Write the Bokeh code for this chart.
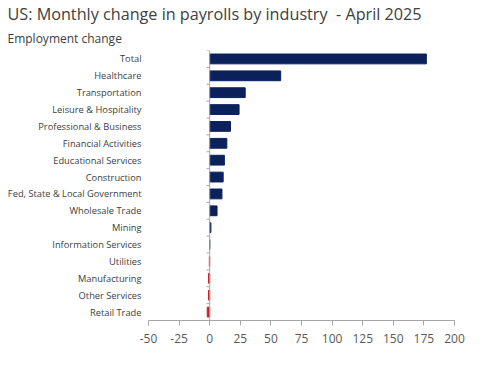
from bokeh.plotting import figure
from bokeh.models import (Range1d, FixedTicker, ColumnDataSource, Span, Label, Title)
from bokeh.embed import file_html
from bokeh.resources import INLINE

industries = ["Total", "Healthcare", "Transportation", "Leisure & Hospitality",
              "Professional & Business", "Financial Activities", "Educational Services",
              "Construction", "Fed, State & Local Government", "Wholesale Trade",
              "Mining", "Information Services", "Utilities", "Manufacturing",
              "Other Services", "Retail Trade"]
values = [177, 58, 29, 24, 17, 14, 12, 11, 10, 6, 1, 0, -0.3, -1, -1, -2]
x_ticks = [-50, -25, 0, 25, 50, 75, 100, 125, 150, 175, 200]

FONT = "Open Sans"
NAVY = "#0a215c"
RED = "#c0222a"
TXT = "#404040"
AX = "#a6a6a6"

n = len(industries)
pos = list(range(n))
colors = [NAVY if v >= 0 else RED for v in values]
src = ColumnDataSource(dict(y=pos, v=values, c=colors, name=industries))

p = figure(width=485, height=375, output_backend="svg", toolbar_location=None,
           x_range=Range1d(-50, 200), y_range=Range1d(n - 0.5, -0.5),
           min_border_left=148, min_border_right=31, min_border_top=47,
           min_border_bottom=55, y_axis_location="left")
p.outline_line_color = None
p.grid.visible = False
p.background_fill_color = "white"
p.border_fill_color = "white"

p.title.text = "US: Monthly change in payrolls by industry\u00a0 - April 2025"
p.title.text_font = FONT
p.title.text_font_size = "16.2px"
p.title.text_font_style = "normal"
p.title.text_color = TXT
p.title.align = "left"
p.title.offset = -141
p.title.standoff = 0
p.add_layout(Title(text="Employment change",
                   text_font=FONT, text_font_size="12px", text_font_style="normal",
                   text_color=TXT, align="left", offset=-141, standoff=7), "above")

p.hbar(y="y", right="v", left=0, height=0.58, color="c", source=src)

# y axis: category labels only
ya = p.yaxis[0]
ya.ticker = FixedTicker(ticks=pos)
ya.major_label_overrides = {i: s for i, s in enumerate(industries)}
ya.axis_line_color = None
ya.major_tick_line_color = None
ya.major_tick_out = 0
ya.major_tick_in = 0
ya.minor_tick_line_color = None
ya.major_label_standoff = 7
ya.major_label_text_font = FONT
ya.major_label_text_font_size = "9.3px"
ya.major_label_text_color = TXT

# x axis
xa = p.xaxis[0]
xa.ticker = FixedTicker(ticks=x_ticks)
xa.major_label_overrides = {t: str(t) for t in x_ticks}
xa.axis_line_color = AX
xa.major_tick_line_color = AX
xa.major_tick_out = 5
xa.major_tick_in = 0
xa.minor_tick_line_color = None
xa.major_label_text_font = FONT
xa.major_label_text_font_size = "12px"
xa.major_label_text_color = "#595959"
xa.major_label_standoff = 8

# category axis line at zero with boundary ticks
p.add_layout(Span(location=0, dimension="height", line_color=AX, line_width=1))
bounds = [i - 0.5 for i in range(n + 1)]
p.segment(x0=[-2.6] * len(bounds), x1=[0] * len(bounds), y0=bounds, y1=bounds,
          line_color=AX, line_width=1)

p.add_layout(Label(x=200, y=-40, x_units="data", y_units="screen", text="Thousands",
                   text_align="right", text_font=FONT, text_font_size="12px",
                   text_color="#595959"))

open("out.html", "w").write(file_html(p, INLINE))
